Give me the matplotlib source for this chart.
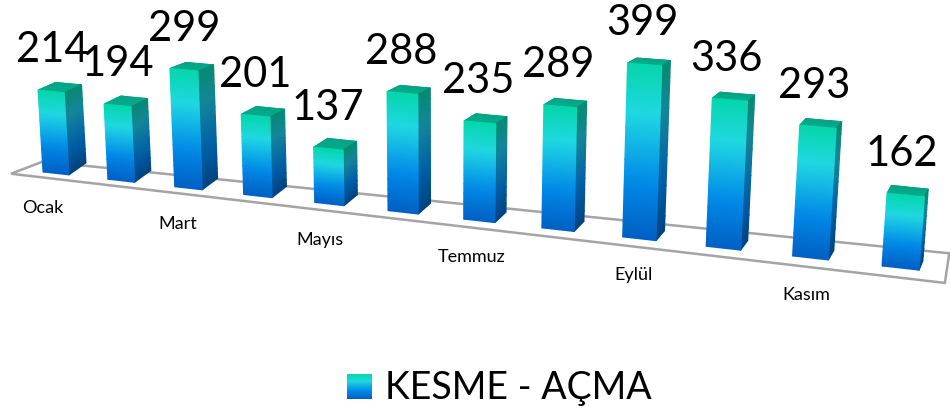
#!/usr/bin/env python

import numpy as np
import matplotlib
matplotlib.use('Agg')
import matplotlib.pyplot as plt
from matplotlib.colors import LinearSegmentedColormap

months = ['Ocak', 'Şubat', 'Mart', 'Nisan', 'Mayıs', 'Haziran',
          'Temmuz', 'Ağustos', 'Eylül', 'Ekim', 'Kasım', 'Aralık']
values = [214, 194, 299, 201, 137, 288, 235, 289, 399, 336, 293, 162]
series_name = 'KESME - AÇMA'

plt.rcParams['font.family'] = ['Lato', 'DejaVu Sans']

BAR_W = 0.404
# floor outline as (category, depth)
FLOOR = [(-0.399, -0.367), (11.72, -1.02), (11.65, 2.22), (-0.204, 0.74)]

front_cmap = LinearSegmentedColormap.from_list('front', [
    (0.0, '#05D6AC'), (0.28, '#20D8E2'), (0.68, '#0088E8'), (1.0, '#0060C4')])
side_cmap = LinearSegmentedColormap.from_list('side', [
    (0.0, '#068A72'), (0.28, '#15869A'), (0.68, '#005FA8'), (1.0, '#00437F')])
top_cmap = LinearSegmentedColormap.from_list('top', ['#03A486', '#05AC8C'])


# camera for the fake 3d: category, value, depth -> picture pixels
def project(t, v, d):
    w = 1 - 0.01472 * t - 0.000058 * v + 0.0164 * d
    x = (63.29 * t + 43 - 0.02556 * v + 18.33 * d) / w
    # depth goes flatter on the tall left bars, fitted by eye
    h = -9.5 + 0.55 * t + 0.015 * v * max(0, 1 - t / 11)
    y = (4.63 * t + 172 - 0.388 * v + h * d) / w
    return x, y


def face(ax, a, b, cmap):
    # a is the upper edge, b the lower one, each two (t, v, d) points
    fr = np.linspace(0, 1, 12)
    xs, ys, cs = [], [], []
    for f in fr:
        row_x, row_y = [], []
        for p, q in zip(a, b):
            px = [p[k] + (q[k] - p[k]) * f for k in range(3)]
            x, y = project(*px)
            row_x.append(x)
            row_y.append(y)
        xs.append(row_x)
        ys.append(row_y)
        cs.append([f, f])
    ax.pcolormesh(np.array(xs), np.array(ys), np.array(cs), cmap=cmap,
                  shading='gouraud', vmin=0, vmax=1, rasterized=True)


fig = plt.figure(figsize=(9.5, 4.12), dpi=100)
ax = fig.add_axes([0, 0, 1, 1])
ax.set_xlim(0, 950)
ax.set_ylim(412, 0)
ax.axis('off')

floor_x, floor_y = zip(*[project(t, 0, d) for t, d in FLOOR])
ax.fill(floor_x, floor_y, facecolor='white', edgecolor='#A4A4A4', linewidth=1.8,
        joinstyle='miter')

for i, v in enumerate(values):
    t0, t1 = i, i + BAR_W
    # top, side, then front
    face(ax, [(t0, v, 1), (t1, v, 1)], [(t0, v, 0), (t1, v, 0)], top_cmap)
    face(ax, [(t1, v, 0), (t1, v, 1)], [(t1, 0, 0), (t1, 0, 1)], side_cmap)
    face(ax, [(t0, v, 0), (t1, v, 0)], [(t0, 0, 0), (t1, 0, 0)], front_cmap)

    x, y = project(i + BAR_W / 2, v, 0)
    ax.text(x + 1 - 0.45 * i, y - 29, str(v), fontsize=30, ha='center',
            va='baseline', color='black')

for i, name in enumerate(months):
    if i % 2 == 0:
        x, y = project(i + BAR_W / 2, 0, 0)
        ax.text(x - 13 + 0.9 * i, y + 35 + 0.2 * i, name, fontsize=13,
                ha='center', va='center', color='black')

# legend
sw = fig.add_axes([347 / 950, 1 - 399 / 412, 25 / 950, 25 / 412])
sw.imshow(np.linspace(0, 1, 50).reshape(-1, 1), cmap=front_cmap, aspect='auto')
sw.axis('off')
ax.text(385, 399, series_name, fontsize=27, ha='left', va='baseline',
        color='black')

fig.savefig('out.png', dpi=100)
